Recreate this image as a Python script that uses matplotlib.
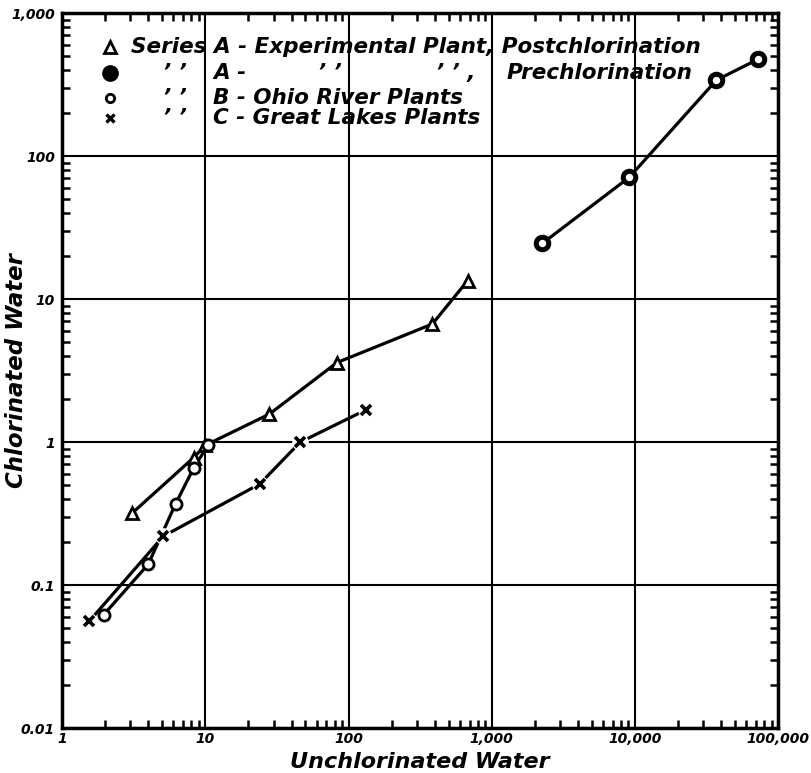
import numpy as np
import matplotlib.pyplot as plt
from matplotlib.ticker import LogLocator, NullFormatter

# Series A - experimental plant, postchlorination (triangles)
post_x = [3.1, 8.3, 10.0, 28, 83, 385, 680]
post_y = [0.32, 0.78, 0.95, 1.57, 3.6, 6.7, 13.5]

# Series A - prechlorination (heavy circles)
pre_x = [2250, 9100, 37000, 72000]
pre_y = [24.5, 71, 340, 475]

# Series B - Ohio River plants (open circles)
ohio_x = [1.95, 4.0, 6.2, 8.3, 10.5]
ohio_y = [0.062, 0.14, 0.37, 0.66, 0.96]

# Series C - Great Lakes plants (crosses)
lakes_x = [1.55, 5.1, 24, 46, 132]
lakes_y = [0.056, 0.22, 0.51, 1.0, 1.68]

x_ticks = [1, 10, 100, 1000, 10000, 100000]
x_labels = ["1", "10", "100", "1,000", "10,000", "100,000"]
y_ticks = [0.01, 0.1, 1, 10, 100, 1000]
y_labels = ["0.01", "0.1", "1", "10", "100", "1,000"]

font = dict(fontstyle="italic", fontweight="bold", family="DejaVu Sans")

fig = plt.figure(figsize=(8.12, 7.73), dpi=100)
ax = fig.add_axes([0.0764, 0.058, 0.882, 0.925])
ax.set_xscale("log")
ax.set_yscale("log")
ax.set_xlim(1, 100000)
ax.set_ylim(0.01, 1000)

lw = 2.3
# lines
ax.plot(post_x, post_y, color="black", lw=lw, zorder=3)
ax.plot(pre_x, pre_y, color="black", lw=lw, zorder=3)
ax.plot(ohio_x, ohio_y, color="black", lw=lw, zorder=3)
ax.plot(lakes_x, lakes_y, color="black", lw=lw, zorder=3)

# white halos behind the crosses so the line breaks at each marker
ax.plot(lakes_x, lakes_y, "o", ms=12, mfc="white", mec="none", zorder=4)
ax.plot(lakes_x, lakes_y, "x", ms=6.5, mew=2.6, color="black", zorder=5)
ax.plot(post_x, post_y, "^", ms=9, mfc="white", mec="black", mew=2.0, zorder=5)
ax.plot(ohio_x, ohio_y, "o", ms=8, mfc="white", mec="black", mew=2.0, zorder=5)
ax.plot(pre_x, pre_y, "o", ms=9, mfc="white", mec="black", mew=3.6, zorder=5)

# grid at each decade
ax.grid(True, which="major", color="black", lw=1.5)
ax.set_axisbelow(True)
for s in ax.spines.values():
    s.set_linewidth(2.5)

ax.set_xticks(x_ticks)
ax.set_xticklabels(x_labels, fontsize=10, **font)
ax.set_yticks(y_ticks)
ax.set_yticklabels(y_labels, fontsize=10, **font)
ax.xaxis.set_minor_locator(LogLocator(base=10, subs=np.arange(2, 10)))
ax.yaxis.set_minor_locator(LogLocator(base=10, subs=np.arange(2, 10)))
ax.xaxis.set_minor_formatter(NullFormatter())
ax.yaxis.set_minor_formatter(NullFormatter())
ax.tick_params(which="major", length=0, pad=5)
ax.tick_params(axis="x", which="major", pad=3)
ax.tick_params(which="minor", direction="in", length=6, width=1.8,
               top=True, right=True)

ax.set_xlabel("Unchlorinated Water", fontsize=16, **font)
ax.xaxis.set_label_coords(0.5, -0.034)
ax.set_ylabel("Chlorinated Water", fontsize=16.5, **font)
ax.yaxis.set_label_coords(-0.047, 0.5)

# hand-lettered legend in the top-left panel
tr = ax.transAxes
rows = [0.952, 0.916, 0.881, 0.853]
mk = 0.067
ax.plot(mk, rows[0], "^", ms=8, mfc="white", mec="black", mew=2.0,
        transform=tr, clip_on=False)
ax.plot(mk, rows[1], "o", ms=11, color="black", transform=tr, clip_on=False)
ax.plot(mk, rows[2], "o", ms=6, mfc="white", mec="black", mew=2.0,
        transform=tr, clip_on=False)
ax.plot(mk, rows[3], "x", ms=6, mew=2.4, color="black", transform=tr,
        clip_on=False)

lfs = 15.5
t0 = 0.096
ditto = 0.141
col2 = 0.211
ax.text(t0, rows[0], "Series A - Experimental Plant, Postchlorination",
        fontsize=lfs, va="center", transform=tr, **font)
ax.text(ditto, rows[1], "’ ’", fontsize=lfs, va="center", transform=tr, **font)
ax.text(col2, rows[1], "A -", fontsize=lfs, va="center", transform=tr, **font)
ax.text(0.357, rows[1], "’ ’", fontsize=lfs, va="center", transform=tr, **font)
ax.text(0.522, rows[1], "’ ’ ,", fontsize=lfs, va="center", transform=tr, **font)
ax.text(0.880, rows[1], "Prechlorination", fontsize=lfs, va="center",
        ha="right", transform=tr, **font)
ax.text(ditto, rows[2], "’ ’", fontsize=lfs, va="center", transform=tr, **font)
ax.text(col2, rows[2], "B - Ohio River Plants", fontsize=lfs, va="center",
        transform=tr, **font)
ax.text(ditto, rows[3], "’ ’", fontsize=lfs, va="center", transform=tr, **font)
ax.text(col2, rows[3], "C - Great Lakes Plants", fontsize=lfs, va="center",
        transform=tr, **font)

fig.savefig("out.png", dpi=100)
